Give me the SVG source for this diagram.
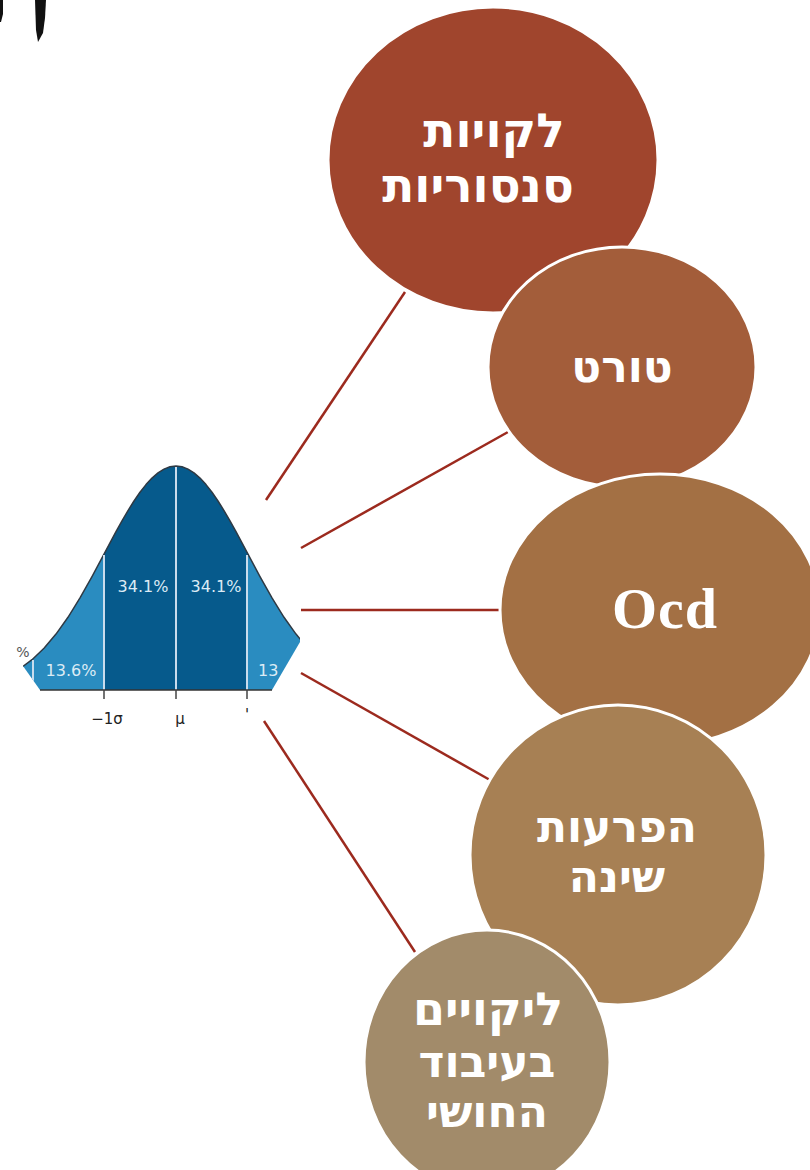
<svg xmlns="http://www.w3.org/2000/svg" width="810" height="1170" viewBox="0 0 810 1170">
<style>
.conn{stroke:#9C2A1E;stroke-width:2.5;fill:none}
.node{stroke:#ffffff;stroke-width:3}
.heb{font-family:"DejaVu Sans","Liberation Sans",sans-serif;font-weight:bold;fill:#ffffff;text-anchor:middle}
.pct{font-family:"DejaVu Sans",sans-serif;font-size:16px;fill:#dcebf5}
.axis{font-family:"DejaVu Sans",sans-serif;font-size:15px;fill:#222222}
.vl{stroke:#c9dced;stroke-width:2}
.tick{stroke:#444444;stroke-width:1.5}
</style>
<defs>
<clipPath id="bellclip">
<polygon points="23,440 23,666 40,690 272,690 300,642 300,440"/>
</clipPath>
</defs>
<rect width="810" height="1170" fill="#ffffff"/>
<g id="smudge">
<path d="M35,0 L46,0 L45,18 L43,33 L38,42 L36,30 Z" fill="#111111"/>
<path d="M0,0 L3,0 L3,14 L1,22 L0,22 Z" fill="#111111"/>
</g>
<g id="bell">
<g clip-path="url(#bellclip)">
<path d="M8,690 L8,677 L20,668.6 L32,659.7 L44,648.3 L56,634.1 L68,617.3 L80,597.9 L92,576.6 L98,565.4 L104,554.1 L110,542.8 L116,531.7 L122,520.9 L128,510.6 L134,501 L140,492.3 L146,484.6 L152,478.1 L158,472.9 L164,469.1 L170,466.8 L176,466 L182,466.8 L188,469.1 L194,472.9 L200,478.1 L206,484.6 L212,492.3 L218,501 L224,510.6 L230,520.9 L236,531.7 L242,542.8 L248,554.1 L254,565.4 L260,576.6 L272,597.9 L284,617.3 L296,634.1 L308,648.3 L320,659.7 L320,690 Z" fill="#2A8CC0"/>
<path d="M104,690 L104,554.1 L110,542.8 L116,531.7 L122,520.9 L128,510.6 L134,501 L140,492.3 L146,484.6 L152,478.1 L158,472.9 L164,469.1 L170,466.8 L176,466 L182,466.8 L188,469.1 L194,472.9 L200,478.1 L206,484.6 L212,492.3 L218,501 L224,510.6 L230,520.9 L236,531.7 L242,542.8 L248,554.1 L248,690 Z" fill="#065A8C"/>
<path d="M8,677 L20,668.6 L32,659.7 L44,648.3 L56,634.1 L68,617.3 L80,597.9 L92,576.6 L98,565.4 L104,554.1 L110,542.8 L116,531.7 L122,520.9 L128,510.6 L134,501 L140,492.3 L146,484.6 L152,478.1 L158,472.9 L164,469.1 L170,466.8 L176,466 L182,466.8 L188,469.1 L194,472.9 L200,478.1 L206,484.6 L212,492.3 L218,501 L224,510.6 L230,520.9 L236,531.7 L242,542.8 L248,554.1 L254,565.4 L260,576.6 L272,597.9 L284,617.3 L296,634.1 L308,648.3" fill="none" stroke="#2f3a44" stroke-width="1.5" stroke-linejoin="round"/>
<line class="vl" x1="33" y1="660" x2="33" y2="690"/>
<line class="vl" x1="104" y1="555" x2="104" y2="690"/>
<line class="vl" x1="176" y1="467" x2="176" y2="690"/>
<line class="vl" x1="247" y1="555" x2="247" y2="690"/>
</g>
<line x1="40" y1="690" x2="272" y2="690" stroke="#333333" stroke-width="1.5"/>
<line class="tick" x1="104" y1="690" x2="104" y2="699"/>
<line class="tick" x1="176" y1="690" x2="176" y2="699"/>
<line class="tick" x1="247" y1="690" x2="247" y2="699"/>
<text class="pct" x="143" y="592" text-anchor="middle">34.1%</text>
<text class="pct" x="216" y="592" text-anchor="middle">34.1%</text>
<text class="pct" x="71" y="676" text-anchor="middle">13.6%</text>
<text class="pct" x="258" y="676">13</text>
<text x="23" y="657" text-anchor="middle" font-family="DejaVu Sans, sans-serif" font-size="14" fill="#555555">%</text>
<text class="axis" x="107" y="724" text-anchor="middle">−1σ</text>
<text class="axis" x="180" y="724" text-anchor="middle">μ</text>
<text class="axis" x="247" y="720" text-anchor="middle">'</text>
</g>
<g id="connectors">
<line class="conn" x1="266" y1="500" x2="405" y2="292"/>
<line class="conn" x1="301" y1="548" x2="508" y2="432"/>
<line class="conn" x1="301" y1="610" x2="500" y2="610"/>
<line class="conn" x1="301" y1="673" x2="490" y2="780"/>
<line class="conn" x1="264" y1="721" x2="415" y2="952"/>
</g>
<g id="node1">
<ellipse class="node" cx="493" cy="160" rx="165" ry="153" fill="#A0452D"/>
<text class="heb" x="494" y="147" font-size="47">לקויות</text>
<text class="heb" x="478" y="202" font-size="47">סנסוריות</text>
</g>
<g id="node2">
<ellipse class="node" cx="622" cy="367" rx="134" ry="120" fill="#A35D3A"/>
<text class="heb" x="622" y="382" font-size="44">טורט</text>
</g>
<g id="node3">
<ellipse class="node" cx="660" cy="610" rx="160" ry="136" fill="#A37044"/>
<text x="665" y="628" text-anchor="middle" font-family="Liberation Serif, serif" font-weight="bold" font-size="58" letter-spacing="1" fill="#ffffff">Ocd</text>
</g>
<g id="node4">
<ellipse class="node" cx="618" cy="855" rx="148" ry="150" fill="#A78054"/>
<text class="heb" x="617" y="842" font-size="44">הפרעות</text>
<text class="heb" x="617" y="892" font-size="44">שינה</text>
</g>
<g id="node5">
<ellipse class="node" cx="487" cy="1062" rx="123" ry="132" fill="#A28B6A"/>
<text class="heb" x="488" y="1025" font-size="46">ליקויים</text>
<text class="heb" x="487" y="1077" font-size="44">בעיבוד</text>
<text class="heb" x="487" y="1127" font-size="44">החושי</text>
</g>
</svg>
